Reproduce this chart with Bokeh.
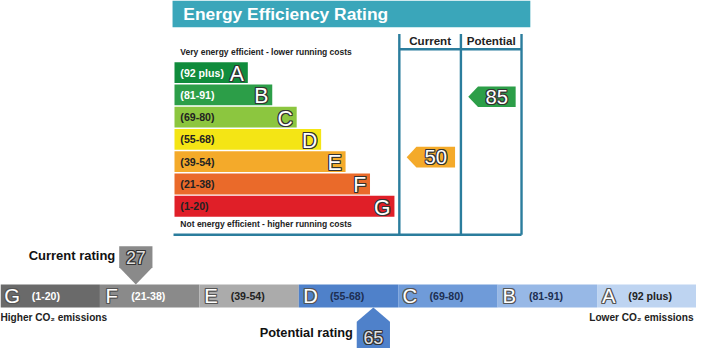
from bokeh.plotting import figure
from bokeh.models import Range1d, ColumnDataSource
from bokeh.embed import file_html
from bokeh.resources import INLINE
from bokeh.core.properties import value

# ---------------- data ----------------
eer_bands = ["A", "B", "C", "D", "E", "F", "G"]
eer_labels = ["(92 plus)", "(81-91)", "(69-80)", "(55-68)", "(39-54)", "(21-38)", "(1-20)"]
eer_min = [92, 81, 69, 55, 39, 21, 1]
eer_max = [100, 91, 80, 68, 54, 38, 20]
eer_colors = ["#108c3c", "#2c9e48", "#8cc63f", "#f4e515", "#f4aa2a", "#ea6a2a", "#e01f28"]
eer_label_colors = ["white", "white", "#222222", "#222222", "#222222", "#222222", "#222222"]
eer_current = 50
eer_potential = 85
eer_title = "Energy Efficiency Rating"
eer_top_note = "Very energy efficient - lower running costs"
eer_bottom_note = "Not energy efficient - higher running costs"
eer_columns = ["Current", "Potential"]

co2_bands = ["G", "F", "E", "D", "C", "B", "A"]
co2_labels = ["(1-20)", "(21-38)", "(39-54)", "(55-68)", "(69-80)", "(81-91)", "(92 plus)"]
co2_min = [1, 21, 39, 55, 69, 81, 92]
co2_max = [20, 38, 54, 68, 80, 91, 100]
co2_colors = ["#6a6a6a", "#8a8a8a", "#ababab", "#4f81ca", "#6f9bd9", "#97b8e6", "#bed4f1"]
co2_label_colors = ["white", "white", "#222222", "#1d2f52", "#1d2f52", "#1d2f52", "#222222"]
co2_current = 27
co2_potential = 65
co2_left_note = "Higher CO\u2082 emissions"
co2_right_note = "Lower CO\u2082 emissions"

# ---------------- figure ----------------
W, H = 696, 348
p = figure(width=W, height=H, x_range=Range1d(0, 712), y_range=Range1d(364, 0),
           x_axis_type=None, y_axis_type=None, output_backend="svg",
           toolbar_location=None, min_border=0)
p.grid.visible = False
p.outline_line_color = None
p.background_fill_color = "white"
p.border_fill_color = "white"

FONT = value("Liberation Sans")
S = 0.965


def fs(f):
    return f"{f * S:.1f}px"


def txt(xs, ys, texts, size, color, align="left", bold=True, outline=None):
    cols = color if isinstance(color, list) else [color] * len(xs)
    src = ColumnDataSource(dict(x=xs, y=ys, t=texts, c=cols))
    kw = dict(text_font=FONT, text_font_size=fs(size), text_font_style="bold" if bold else "normal",
              text_align=align, text_baseline="middle")
    if outline:
        for dx, dy in [(-1, 0), (1, 0), (0, -1), (0, 1), (-1, -1), (1, 1), (-1, 1), (1, -1)]:
            p.text("x", "y", "t", source=src, x_offset=dx, y_offset=dy, text_color=outline, **kw)
    p.text("x", "y", "t", source=src, text_color="c", **kw)


LINE = "#2b7d9d"

# ---------------- top: energy efficiency ----------------
p.quad(left=[176], right=[542], top=[0], bottom=[28], fill_color="#3aa6ba", line_color=None)
txt([187], [14], [eer_title], 18, "white")

band_top0, band_pitch, band_h = 64.5, 23.3, 21.8
tops = [band_top0 + band_pitch * i for i in range(len(eer_bands))]
bots = [t + band_h for t in tops]
rights = [253 + 25 * i for i in range(len(eer_bands))]
p.quad(left=[178] * len(eer_bands), right=rights, top=tops, bottom=bots,
       fill_color=eer_colors, line_color=None)
centers = [(t + b) / 2 for t, b in zip(tops, bots)]
txt([184] * 7, centers, eer_labels, 11, eer_label_colors)
txt([r - 4 for r in rights], [c + 1 for c in centers], eer_bands, 22, "white",
    align="right", bold=False, outline="#333333")

txt([184], [53.8], [eer_top_note], 8.8, "#222222")
txt([184], [233.8], [eer_bottom_note], 8.8, "#222222")

cols_x = [408, 471, 533]
p.segment(x0=cols_x, y0=[35] * 3, x1=cols_x, y1=[245] * 3, line_color=LINE, line_width=2.4)
p.segment(x0=[408, 177], y0=[51, 245], x1=[533, 533], y1=[51, 245], line_color=LINE, line_width=2.4)
txt([(cols_x[0] + cols_x[1]) / 2, (cols_x[1] + cols_x[2]) / 2], [42.2, 42.2], eer_columns, 12,
    "#222222", align="center")


def eer_band_index(r):
    for i, (lo, hi) in enumerate(zip(eer_min, eer_max)):
        if lo <= r <= hi:
            return i
    return len(eer_min) - 1


arrow_xs, arrow_ys, arrow_cols, num_x, num_y, num_t = [], [], [], [], [], []
for col, r in enumerate([eer_current, eer_potential]):
    i = eer_band_index(r)
    yc = tops[i] + (eer_max[i] - r + 0.5) / (eer_max[i] - eer_min[i] + 1) * band_h
    tip = cols_x[col] + 7.5
    body = tip + 10
    right = cols_x[col + 1] - 6
    hh = 10.75
    arrow_xs.append([tip, body, right, right, body])
    arrow_ys.append([yc, yc - hh, yc - hh, yc + hh, yc + hh])
    arrow_cols.append(eer_colors[i])
    num_x.append((body + right) / 2)
    num_y.append(yc)
    num_t.append(str(r))
p.patches(xs=arrow_xs, ys=arrow_ys, fill_color=arrow_cols, line_color=None)
txt(num_x, num_y, num_t, 21, "white", align="center", bold=False, outline="#333333")

# ---------------- bottom: CO2 ----------------
n = len(co2_bands)
seg_w = 712 / n
lefts = [seg_w * i for i in range(n)]
segr = [seg_w * (i + 1) for i in range(n)]
bar_top, bar_bot = 297, 321
p.quad(left=lefts, right=segr, top=[bar_top] * n, bottom=[bar_bot] * n,
       fill_color=co2_colors, line_color=None)
bc = (bar_top + bar_bot) / 2
txt([l + 12 for l in lefts], [bc] * n, co2_bands, 21, "white", align="center",
    bold=False, outline="#555555")
txt([l + 32 for l in lefts], [bc] * n, co2_labels, 11, co2_label_colors)

txt([0], [331.2], [co2_left_note], 10.5, "#222222")
txt([709], [331.2], [co2_right_note], 10.5, "#222222", align="right")


def co2_x(r):
    for i, (lo, hi) in enumerate(zip(co2_min, co2_max)):
        if lo <= r <= hi:
            return lefts[i] + (r - lo + 0.5) / (hi - lo + 1) * seg_w, i
    return 0, 0


cx, ci = co2_x(co2_current)
px_, pi = co2_x(co2_potential)
hw = 17
mk_xs = [[cx - hw, cx + hw, cx + hw, cx, cx - hw],
         [px_ - hw, px_ + hw, px_ + hw, px_, px_ - hw]]
mk_ys = [[257, 257, 279, bar_top, 279],
         [364, 364, 336, bar_bot, 336]]
p.patches(xs=mk_xs, ys=mk_ys, fill_color=[co2_colors[ci], co2_colors[pi]], line_color=None)
txt([cx, px_], [269, 353], [str(co2_current), str(co2_potential)], 18.5, "#e2e2e2",
    align="center", bold=False, outline="#333333")
txt([cx - hw - 4], [267.2], ["Current rating"], 13.5, "#111111", align="right")
txt([px_ - hw - 4], [347.2], ["Potential rating"], 13.3, "#111111", align="right")

open("out.html", "w").write(file_html(p, INLINE))
